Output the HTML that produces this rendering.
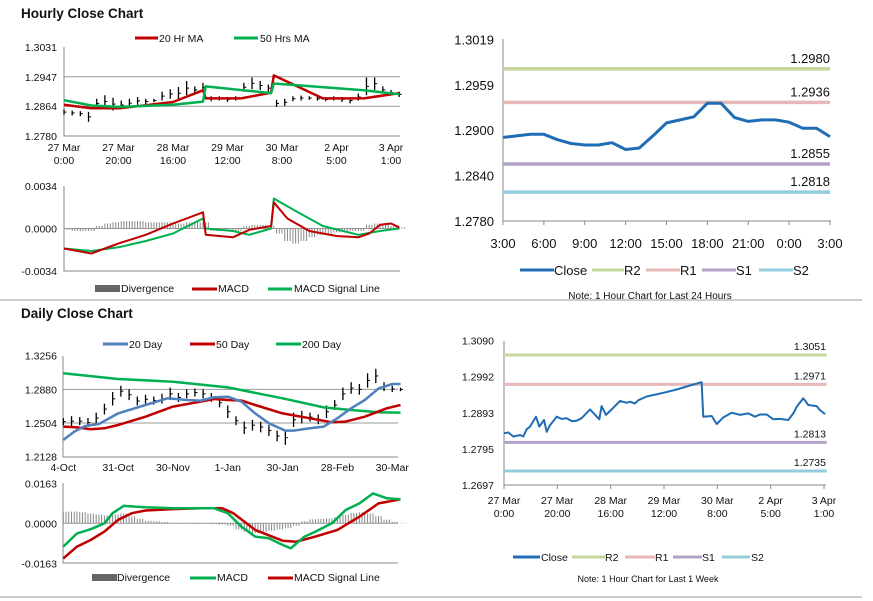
<!DOCTYPE html>
<html><head><meta charset="utf-8">
<style>
html,body{margin:0;padding:0;background:#fff;}
svg{display:block;font-family:"Liberation Sans",Arial,sans-serif;}
</style></head>
<body>
<svg id="chart" width="873" height="601" viewBox="0 0 873 601" xmlns="http://www.w3.org/2000/svg">
<rect width="873" height="601" fill="#fff"/>
<text x="21" y="18" font-size="13.5" font-weight="bold" fill="#111">Hourly Close Chart</text>
<text x="21" y="318" font-size="13.5" font-weight="bold" fill="#111">Daily Close Chart</text>
<line x1="0" y1="300" x2="862" y2="300" stroke="#999" stroke-width="1"/>
<line x1="0" y1="597" x2="862" y2="597" stroke="#999" stroke-width="1"/>

<g font-size="10.5" fill="#111">
<line x1="135" y1="38" x2="158" y2="38" stroke="#c00000" stroke-width="3"/><text x="159" y="42">20 Hr MA</text>
<line x1="234" y1="38" x2="258" y2="38" stroke="#00b050" stroke-width="3"/><text x="260" y="42">50 Hrs MA</text>
</g>
<g font-size="10.5" fill="#111">
<rect x="95" y="285" width="25" height="7" fill="#666"/><text x="121" y="292">Divergence</text>
<line x1="192" y1="289" x2="217" y2="289" stroke="#c00000" stroke-width="3"/><text x="218" y="292">MACD</text>
<line x1="268" y1="289" x2="292" y2="289" stroke="#00b050" stroke-width="3"/><text x="294" y="292">MACD Signal Line</text>
</g>
<g font-size="10.5" fill="#111">
<line x1="103" y1="344" x2="128" y2="344" stroke="#4f81bd" stroke-width="3"/><text x="129" y="348">20 Day</text>
<line x1="190" y1="344" x2="215" y2="344" stroke="#c00000" stroke-width="3"/><text x="216" y="348">50 Day</text>
<line x1="276" y1="344" x2="301" y2="344" stroke="#00b050" stroke-width="3"/><text x="302" y="348">200 Day</text>
</g>
<g font-size="10.5" fill="#111">
<rect x="92" y="574" width="25" height="7" fill="#666"/><text x="117" y="581">Divergence</text>
<line x1="190" y1="578" x2="216" y2="578" stroke="#00b050" stroke-width="3"/><text x="217" y="581">MACD</text>
<line x1="268" y1="578" x2="293" y2="578" stroke="#c00000" stroke-width="3"/><text x="294" y="581">MACD Signal Line</text>
</g>
<g font-size="13" fill="#111">
<line x1="520" y1="270" x2="554" y2="270" stroke="#1f6db5" stroke-width="3"/><text x="554" y="275">Close</text>
<line x1="592" y1="270" x2="624" y2="270" stroke="#c3d69b" stroke-width="3"/><text x="624" y="275">R2</text>
<line x1="646" y1="270" x2="680" y2="270" stroke="#e6b9b8" stroke-width="3"/><text x="680" y="275">R1</text>
<line x1="702" y1="270" x2="736" y2="270" stroke="#b3a2c7" stroke-width="3"/><text x="736" y="275">S1</text>
<line x1="759" y1="270" x2="793" y2="270" stroke="#93cddd" stroke-width="3"/><text x="793" y="275">S2</text>
<text x="650" y="299" font-size="10" text-anchor="middle">Note: 1 Hour Chart for Last 24 Hours</text>
</g>
<g font-size="10.5" fill="#111">
<line x1="513" y1="557" x2="540" y2="557" stroke="#1f6db5" stroke-width="3"/><text x="541" y="561">Close</text>
<line x1="572" y1="557" x2="605" y2="557" stroke="#c3d69b" stroke-width="3"/><text x="605" y="561">R2</text>
<line x1="625" y1="557" x2="655" y2="557" stroke="#e6b9b8" stroke-width="3"/><text x="655" y="561">R1</text>
<line x1="673" y1="557" x2="702" y2="557" stroke="#b3a2c7" stroke-width="3"/><text x="702" y="561">S1</text>
<line x1="722" y1="557" x2="750" y2="557" stroke="#93cddd" stroke-width="3"/><text x="751" y="561">S2</text>
<text x="648" y="582" font-size="9" text-anchor="middle">Note: 1 Hour Chart for  Last 1 Week</text>
</g>
<g id="plots"></g>
</svg>
<script>
// ---------- Hourly price panel ----------
const hBarIdx = [0,3,6,9,12,15,18,21,24,27,30,33,36,39,42,45,48,51,54,57,60,63,66,69,72,75,78,81,84,87,90,93,96,99,102,105,108,111,114,117,120,123];
const hBarLo = [1.2840,1.2838,1.2836,1.2820,1.2858,1.2860,1.2852,1.2855,1.2860,1.2868,1.2870,1.2875,1.2880,1.2885,1.2883,1.2895,1.2900,1.2905,1.2878,1.2880,1.2876,1.2880,1.2905,1.2912,1.2910,1.2905,1.2862,1.2865,1.2878,1.2880,1.2882,1.2880,1.2878,1.2880,1.2876,1.2872,1.2880,1.2895,1.2910,1.2900,1.2895,1.2890];
const hBarHi = [1.2855,1.2852,1.2850,1.2848,1.2885,1.2895,1.2888,1.2880,1.2885,1.2890,1.2885,1.2885,1.2905,1.2912,1.2918,1.2935,1.2920,1.2930,1.2892,1.2892,1.2890,1.2892,1.2930,1.2945,1.2935,1.2925,1.2882,1.2885,1.2892,1.2894,1.2892,1.2890,1.2888,1.2892,1.2890,1.2888,1.2900,1.2945,1.2945,1.2920,1.2910,1.2905];
const hMa20Idx = [0,10,20,30,40,51,52,65,76,77,95,110,123];
const hMa20 = [1.2868,1.2858,1.2858,1.2867,1.2876,1.2909,1.2886,1.2886,1.2902,1.2951,1.2886,1.2886,1.2901];
const hMa50Idx = [0,10,20,40,51,52,76,77,110,123];
const hMa50 = [1.2881,1.2866,1.2862,1.2868,1.2877,1.2920,1.2901,1.2928,1.2909,1.2898];
const hPriceTicks = [1.3031,1.2947,1.2864,1.2780];
const hTimeTickIdx = [0,20,40,60,80,100,120];
const hTimeTickL1 = ["27 Mar","27 Mar","28 Mar","29 Mar","30 Mar","2 Apr","3 Apr"];
const hTimeTickL2 = ["0:00","20:00","16:00","12:00","8:00","5:00","1:00"];
// ---------- Hourly MACD panel ----------
const hMacdIdx = [0,10,20,30,40,51,52,62,68,76,77,82,90,100,108,112,116,120,123];
const hMacd = [-0.0016,-0.0020,-0.0012,-0.0005,0.0004,0.0013,-0.0005,-0.0007,-0.0001,0.0002,0.0021,0.0008,-0.0002,-0.0006,-0.0007,-0.0004,0.0003,0.0004,0.0001];
const hSigIdx = [0,10,20,30,40,51,52,62,68,76,77,85,95,108,116,123];
const hSig = [-0.0016,-0.0018,-0.0015,-0.0010,-0.0004,0.0008,0.0000,-0.0002,-0.0005,0.0000,0.0024,0.0014,0.0002,-0.0005,-0.0002,0.0000];
const hDiv = [-0.0001,-0.0002,-0.0002,-0.0002,0.0002,0.0004,0.0005,0.0006,0.0006,0.0006,0.0005,0.0005,0.0005,0.0005,0.0004,0.0005,0.0005,0.0005,-0.0002,-0.0002,-0.0001,-0.0002,0.0002,0.0003,0.0003,0.0002,-0.0004,-0.0010,-0.0012,-0.0010,-0.0007,-0.0005,-0.0004,-0.0003,-0.0003,-0.0002,-0.0002,0.0003,0.0004,0.0003,0.0002,0.0001];
const hMacdTicks = [0.0034,0.0000,-0.0034];
const hMacdTickLabels = ["0.0034","0.0000","-0.0034"];
// ---------- 24h close panel ----------
const dayHours = [0,1,2,3,4,5,6,7,8,9,10,11,12,13,14,15,16,17,18,19,20,21,22,23,24];
const dayClose = [1.2890,1.2892,1.2894,1.2894,1.2887,1.2882,1.2880,1.2880,1.2883,1.2874,1.2876,1.2892,1.2909,1.2913,1.2917,1.2935,1.2935,1.2916,1.2911,1.2913,1.2913,1.2910,1.2902,1.2902,1.2891];
const dayLevelNames = ["R2","R1","S1","S2"];
const dayLevels = [1.2980,1.2936,1.2855,1.2818];
const dayPriceTicks = [1.3019,1.2959,1.2900,1.2840,1.2780];
const dayTimeTickIdx = [0,3,6,9,12,15,18,21,24];
const dayTimeTicks = ["3:00","6:00","9:00","12:00","15:00","18:00","21:00","0:00","3:00"];
// ---------- Daily price panel ----------
const dBarIdx = [0,3,6,9,12,15,18,21,24,27,30,33,36,39,42,45,48,51,54,57,60,63,66,69,72,75,78,81,84,87,90,93,96,99,102,105,108,111,114,117,120,123];
const dBarLo = [1.2480,1.2470,1.2480,1.2460,1.2500,1.2600,1.2700,1.2800,1.2760,1.2700,1.2720,1.2710,1.2720,1.2760,1.2740,1.2780,1.2800,1.2780,1.2740,1.2680,1.2560,1.2480,1.2380,1.2420,1.2400,1.2360,1.2300,1.2260,1.2460,1.2500,1.2520,1.2490,1.2560,1.2650,1.2760,1.2830,1.2820,1.2900,1.2950,1.2860,1.2850,1.2860];
const dBarHi = [1.2560,1.2580,1.2570,1.2560,1.2620,1.2720,1.2850,1.2920,1.2880,1.2800,1.2820,1.2800,1.2830,1.2900,1.2840,1.2880,1.2890,1.2880,1.2840,1.2780,1.2700,1.2580,1.2520,1.2540,1.2520,1.2480,1.2420,1.2420,1.2620,1.2640,1.2620,1.2600,1.2700,1.2760,1.2900,1.2960,1.2940,1.3060,1.3110,1.2960,1.2920,1.2900];
const d20Idx = [0,4,8,13,20,30,38,45,50,55,60,65,70,75,81,84,90,95,100,105,110,115,120,123];
const d20 = [1.2315,1.2408,1.2471,1.2493,1.2612,1.2705,1.2780,1.2761,1.2754,1.2791,1.2798,1.2742,1.2612,1.2501,1.2419,1.2419,1.2445,1.2464,1.2557,1.2668,1.2761,1.2891,1.2940,1.2940];
const d50Idx = [0,5,10,15,20,30,40,50,55,60,65,70,80,90,98,103,110,118,123];
const d50 = [1.2464,1.2455,1.2434,1.2445,1.2482,1.2575,1.2687,1.2742,1.2772,1.2761,1.2754,1.2705,1.2612,1.2557,1.2512,1.2520,1.2575,1.2668,1.2705];
const d200Idx = [0,20,40,60,80,95,105,115,123];
const d200 = [1.3059,1.2996,1.2966,1.2902,1.2780,1.2679,1.2650,1.2624,1.2620];
const dPriceTicks = [1.3256,1.2880,1.2504,1.2128];
const dDateTickIdx = [0,20,40,60,80,100,120];
const dDateTicks = ["4-Oct","31-Oct","30-Nov","1-Jan","30-Jan","28-Feb","30-Mar"];
// ---------- Daily MACD panel ----------
const dMacdIdx = [0,5,10,15,18,22,30,40,50,55,60,65,70,75,80,83,88,92,98,103,108,113,118,123];
const dMacd = [-0.0095,-0.0041,-0.0024,0.0000,0.0041,0.0071,0.0065,0.0061,0.0061,0.0061,0.0041,-0.0014,-0.0054,-0.0061,-0.0088,-0.0102,-0.0054,-0.0034,0.0000,0.0054,0.0081,0.0122,0.0102,0.0098];
const dSigIdx = [0,5,10,15,20,25,30,40,50,58,62,70,80,85,92,100,108,115,123];
const dSig = [-0.0143,-0.0095,-0.0068,-0.0034,0.0014,0.0041,0.0052,0.0058,0.0061,0.0061,0.0041,-0.0027,-0.0071,-0.0075,-0.0054,-0.0027,0.0027,0.0081,0.0098];
const dDiv = [0.0047,0.0048,0.0045,0.0040,0.0035,0.0032,0.0036,0.0040,0.0028,0.0018,0.0010,0.0008,0.0005,0.0002,0.0000,0.0002,-0.0002,0.0000,-0.0003,-0.0005,-0.0010,-0.0025,-0.0035,-0.0040,-0.0035,-0.0030,-0.0025,-0.0020,-0.0010,0.0008,0.0016,0.0018,0.0020,0.0025,0.0035,0.0042,0.0045,0.0040,0.0030,0.0015,0.0006,0.0002];
const dMacdTicks = [0.0163,0.0000,-0.0163];
const dMacdTickLabels = ["0.0163","0.0000","-0.0163"];
// ---------- Weekly close panel ----------
const wHours = [0,1.6,3.5,6,7.25,8.5,9.75,12,13.25,15,16,17.25,19.75,21.6,23.5,25.4,27.25,29.1,32.25,35.75,36.6,38.25,40.4,43.5,46,47.25,49.1,50.4,53.5,59.75,64.75,69.75,74.1,74.75,77.9,79.75,82.25,85.4,88.5,91.6,94.1,96,98.5,101,103.5,106.6,108.5,109.75,112.25,114.1,117.25,118.5,120.4];
const wClose = [1.2838,1.2840,1.2829,1.2833,1.2829,1.2849,1.2856,1.2883,1.2856,1.2874,1.2842,1.2860,1.2883,1.2877,1.2879,1.2871,1.2872,1.2879,1.2903,1.2876,1.2912,1.2888,1.2903,1.2926,1.2921,1.2924,1.2919,1.2928,1.2938,1.2948,1.2957,1.2968,1.2977,1.2883,1.2885,1.2863,1.2881,1.2894,1.2888,1.2892,1.2883,1.2889,1.2889,1.2876,1.2877,1.2874,1.2892,1.2910,1.2933,1.2915,1.2912,1.2901,1.2890];
const wLevelNames = ["R2","R1","S1","S2"];
const wLevels = [1.3051,1.2971,1.2813,1.2735];
const wPriceTicks = [1.3090,1.2992,1.2893,1.2795,1.2697];
const wTimeTickIdx = [0,20,40,60,80,100,120];
const wTimeTickL1 = ["27 Mar","27 Mar","28 Mar","29 Mar","30 Mar","2 Apr","3 Apr"];
const wTimeTickL2 = ["0:00","20:00","16:00","12:00","8:00","5:00","1:00"];

const NS = "http://www.w3.org/2000/svg";
const root = document.getElementById("plots");
function mk(tag, attrs, parent) {
  const el = document.createElementNS(NS, tag);
  for (const k in attrs) el.setAttribute(k, attrs[k]);
  (parent || root).appendChild(el);
  return el;
}
function lin(d0, d1, r0, r1) { return v => r0 + (v - d0) * (r1 - r0) / (d1 - d0); }
function drawLine(xs, ys, sx, sy, color, w, name) {
  let d = "";
  xs.forEach((x, i) => { d += (i ? "L" : "M") + sx(x).toFixed(1) + "," + sy(ys[i]).toFixed(1); });
  const el = mk("path", {d: d, fill: "none", stroke: color, "stroke-width": w, "stroke-linejoin": "round"});
  
  
  return el;
}
function text(x, y, s, size, anchor, name) {
  const el = mk("text", {x: x, y: y, "font-size": size, "text-anchor": anchor, fill: "#111"});
  el.textContent = s;
  
  
  return el;
}
function axes(x0, x1, yTop, yBot, name) {
  const a = mk("path", {d: "M" + x0 + "," + yTop + "L" + x0 + "," + yBot + "L" + x1 + "," + yBot, fill: "none", stroke: "#888", "stroke-width": 1});
  
  
}
function grid(x0, x1, y, name) {
  const g = mk("line", {x1: x0, x2: x1, y1: y, y2: y, stroke: "#999", "stroke-width": 1});
  
  
}
function bars(idx, lo, hi, sx, sy, name) {
  idx.forEach((h, i) => {
    const b = mk("line", {x1: sx(h), x2: sx(h), y1: sy(lo[i]), y2: sy(hi[i]), stroke: "#000", "stroke-width": 1.3});
    
    
    const t = mk("line", {x1: sx(h), x2: sx(h) + 2.5, y1: sy((lo[i] + hi[i]) / 2), y2: sy((lo[i] + hi[i]) / 2), stroke: "#000", "stroke-width": 1});
    
    
  });
}
function histo(idx, vals, sx, sy, name) {
  idx.forEach((h, i) => {
    const y0 = sy(0), y1 = sy(vals[i]);
    for (let k = 0; k < 3; k++) {
      const b = mk("line", {x1: sx(h) + k * 2.7, x2: sx(h) + k * 2.7, y1: y0, y2: y1, stroke: "#888", "stroke-width": 1});
      
      
    }
  });
}

// ===== Hourly price =====
{
  const sx = lin(0, 120, 64, 391), sy = lin(1.2780, 1.3031, 136, 47);
  hPriceTicks.forEach((t, i) => {
    if (i > 0 && i < hPriceTicks.length - 1) grid(64, 400, sy(t), "hourly-gridline");
    text(57, sy(t) + 4, t.toFixed(4), 10.5, "end", "hourly-price-tick");
  });
  axes(64, 400, 47, 136, "hourly-price-axes");
  hTimeTickIdx.forEach((h, i) => {
    text(sx(h), 151, hTimeTickL1[i], 10.5, "middle", "hourly-time-tick");
    text(sx(h), 164, hTimeTickL2[i], 10.5, "middle", "hourly-time-tick");
  });
  bars(hBarIdx, hBarLo, hBarHi, sx, sy, "hourly-price-bar");
  drawLine(hMa20Idx, hMa20, sx, sy, "#c00000", 2.5, "hourly-20hr-ma-line");
  drawLine(hMa50Idx, hMa50, sx, sy, "#00b050", 2.5, "hourly-50hrs-ma-line");
}
// ===== Hourly MACD =====
{
  const sx = lin(0, 120, 64, 391), sy = lin(-0.0034, 0.0034, 271, 186);
  hMacdTicks.forEach((t, i) => text(57, sy(t) + 4, hMacdTickLabels[i], 10.5, "end", "hourly-macd-tick"));
  grid(64, 400, sy(0), "hourly-macd-zero");
  axes(64, 400, 186, 271, "hourly-macd-axes");
  histo(hBarIdx, hDiv, sx, sy, "hourly-divergence-bar");
  drawLine(hSigIdx, hSig, sx, sy, "#00b050", 2, "hourly-signal-line");
  drawLine(hMacdIdx, hMacd, sx, sy, "#c00000", 2, "hourly-macd-line");
}
// ===== 24h close =====
{
  const sx = lin(0, 24, 503, 830), sy = lin(1.2780, 1.3019, 221, 39.3);
  dayPriceTicks.forEach(t => text(494, sy(t) + 5, t.toFixed(4), 13, "end", "day-price-tick"));
  axes(503, 831, 39, 221, "day-axes");
  dayTimeTickIdx.forEach((h, i) => {
    mk("line", {x1: sx(h), x2: sx(h), y1: 221, y2: 225, stroke: "#888"});
    text(sx(h), 248, dayTimeTicks[i], 13, "middle", "day-time-tick");
  });
  const cols = ["#c3d69b", "#e6b9b8", "#b3a2c7", "#93cddd"];
  dayLevels.forEach((v, i) => {
    drawLine([0, 24], [v, v], sx, sy, cols[i], 3.5, "day-level-" + dayLevelNames[i].toLowerCase());
    text(830, sy(v) - 6, v.toFixed(4), 13, "end", "day-level-label");
  });
  drawLine(dayHours, dayClose, sx, sy, "#1f6db5", 3, "day-close-line");
}
// ===== Daily price =====
{
  const sx = lin(0, 121, 63.3, 395), sy = lin(1.2128, 1.3256, 456.7, 355.7);
  dPriceTicks.forEach((t, i) => {
    if (i > 0 && i < dPriceTicks.length - 1) grid(63, 398, sy(t), "daily-gridline");
    text(57, sy(t) + 4, t.toFixed(4), 10.5, "end", "daily-price-tick");
  });
  axes(63, 398, 356, 457, "daily-price-axes");
  dDateTickIdx.forEach((d, i) => text(sx(d), 471, dDateTicks[i], 10.5, "middle", "daily-date-tick"));
  bars(dBarIdx, dBarLo, dBarHi, sx, sy, "daily-price-bar");
  drawLine(d200Idx, d200, sx, sy, "#00b050", 2.5, "daily-200-day-line");
  drawLine(d50Idx, d50, sx, sy, "#c00000", 2.5, "daily-50-day-line");
  drawLine(d20Idx, d20, sx, sy, "#4f81bd", 2.5, "daily-20-day-line");
}
// ===== Daily MACD =====
{
  const sx = lin(0, 121, 63.3, 395), sy = lin(-0.0163, 0.0163, 563.3, 483.3);
  dMacdTicks.forEach((t, i) => text(57, sy(t) + 4, dMacdTickLabels[i], 10.5, "end", "daily-macd-tick"));
  grid(63, 398, sy(0), "daily-macd-zero");
  axes(63, 398, 483, 563, "daily-macd-axes");
  histo(dBarIdx, dDiv, sx, sy, "daily-divergence-bar");
  drawLine(dSigIdx, dSig, sx, sy, "#c00000", 2.5, "daily-signal-line");
  drawLine(dMacdIdx, dMacd, sx, sy, "#00b050", 2.5, "daily-macd-line");
}
// ===== Weekly close =====
{
  const sx = lin(0, 120, 504, 824), sy = lin(1.2697, 1.3090, 485, 340.7);
  wPriceTicks.forEach(t => text(494, sy(t) + 4, t.toFixed(4), 10.5, "end", "week-price-tick"));
  axes(504, 826, 341, 485, "week-axes");
  wTimeTickIdx.forEach((h, i) => {
    mk("line", {x1: sx(h), x2: sx(h), y1: 485, y2: 489, stroke: "#888"});
    text(sx(h), 504, wTimeTickL1[i], 10.5, "middle", "week-time-tick");
    text(sx(h), 517, wTimeTickL2[i], 10.5, "middle", "week-time-tick");
  });
  const cols = ["#c3d69b", "#e6b9b8", "#b3a2c7", "#93cddd"];
  wLevels.forEach((v, i) => {
    drawLine([0, 121], [v, v], sx, sy, cols[i], 3, "week-level-" + wLevelNames[i].toLowerCase());
    text(826, sy(v) - 5, v.toFixed(4), 10.5, "end", "week-level-label");
  });
  drawLine(wHours, wClose, sx, sy, "#1f6db5", 2, "week-close-line");
}
</script>
</body></html>
